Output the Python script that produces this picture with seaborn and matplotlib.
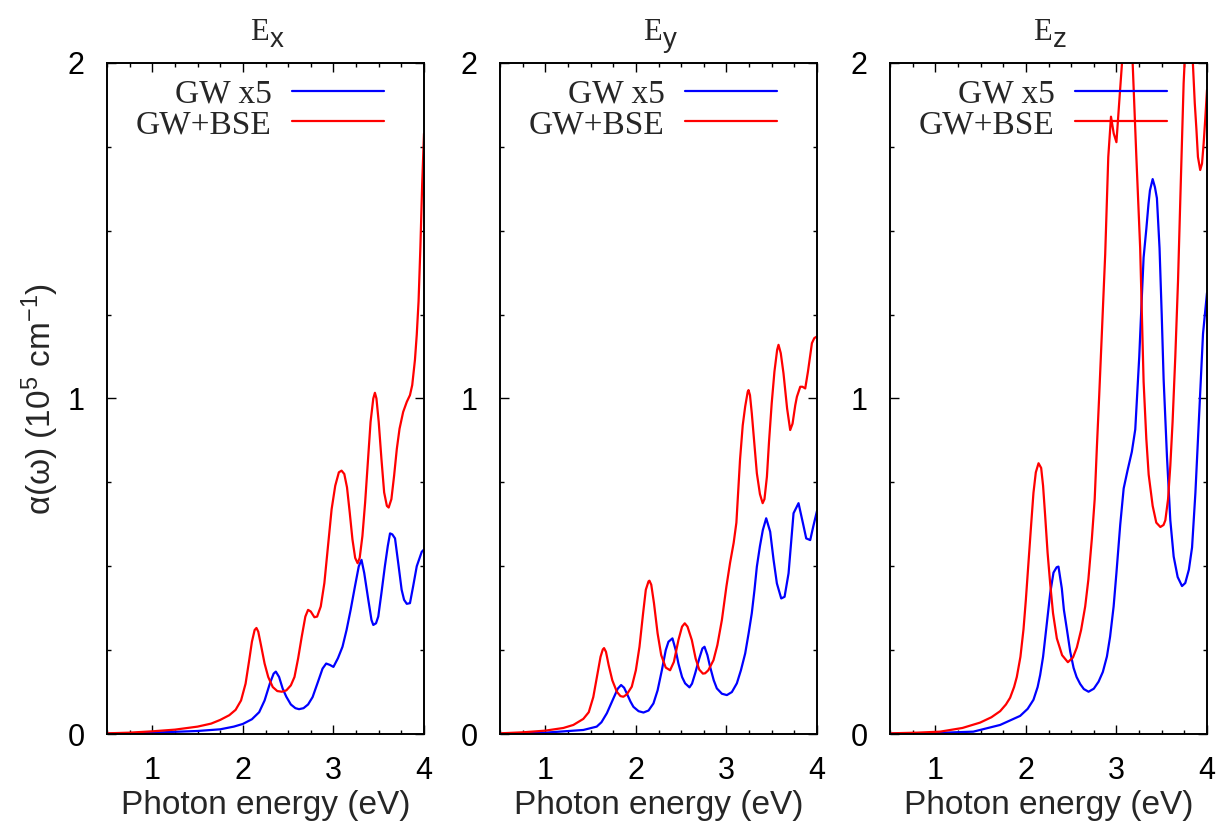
import numpy as np
import pandas as pd
import matplotlib
matplotlib.use("Agg")
import matplotlib.pyplot as plt
import seaborn as sns

# ---- absorption spectra, alpha in 1e5 cm^-1, energy in eV ----
panel_titles = ["x", "y", "z"]
series_names = ["GW x5", "GW+BSE"]
series_colors = ["#0000ff", "#ff0000"]

# E_x polarisation
ex_gw_e = [0.5, 1.0, 1.5, 1.75, 1.9, 2.0, 2.1, 2.18, 2.24, 2.30, 2.34, 2.364, 2.40, 2.44,
           2.48, 2.53, 2.58, 2.62, 2.67, 2.72, 2.77, 2.83, 2.88, 2.92, 2.96, 3.0, 3.05, 3.10,
           3.145, 3.19, 3.237, 3.28, 3.31, 3.34, 3.385, 3.42, 3.44, 3.47, 3.495, 3.53, 3.568,
           3.60, 3.625, 3.65, 3.68, 3.72, 3.753, 3.78, 3.81, 3.845, 3.88, 3.92, 3.975, 4.0]
ex_gw_a = [0.001, 0.004, 0.009, 0.014, 0.022, 0.03, 0.044, 0.065, 0.10, 0.152, 0.18, 0.186,
           0.17, 0.135, 0.111, 0.088, 0.077, 0.074, 0.077, 0.088, 0.11, 0.156, 0.195, 0.21,
           0.206, 0.2, 0.226, 0.26, 0.31, 0.37, 0.439, 0.50, 0.519, 0.48, 0.40, 0.34, 0.325,
           0.33, 0.35, 0.42, 0.50, 0.56, 0.598, 0.595, 0.583, 0.50, 0.43, 0.40, 0.388, 0.39,
           0.44, 0.50, 0.543, 0.55]
ex_bse_e = [0.5, 0.75, 1.0, 1.25, 1.5, 1.65, 1.75, 1.85, 1.92, 1.98, 2.03, 2.07, 2.10, 2.13,
            2.15, 2.17, 2.20, 2.24, 2.28, 2.33, 2.38, 2.43, 2.48, 2.53, 2.57, 2.61, 2.65,
            2.69, 2.72, 2.75, 2.79, 2.82, 2.86, 2.90, 2.94, 2.98, 3.02, 3.06, 3.09, 3.12,
            3.15, 3.18, 3.21, 3.24, 3.267, 3.29, 3.32, 3.35, 3.38, 3.41, 3.44, 3.458, 3.475,
            3.50, 3.53, 3.56, 3.59, 3.61, 3.64, 3.67, 3.70, 3.73, 3.77, 3.81, 3.845, 3.87,
            3.90, 3.92, 3.94, 3.96, 3.98, 4.0]
ex_bse_a = [0.002, 0.004, 0.008, 0.013, 0.022, 0.031, 0.042, 0.056, 0.072, 0.10, 0.15, 0.22,
            0.275, 0.31, 0.316, 0.305, 0.265, 0.21, 0.17, 0.14, 0.128, 0.126, 0.13, 0.145,
            0.17, 0.225, 0.29, 0.35, 0.37, 0.365, 0.348, 0.35, 0.38, 0.45, 0.56, 0.67, 0.74,
            0.78, 0.785, 0.775, 0.735, 0.66, 0.58, 0.525, 0.509, 0.525, 0.59, 0.69, 0.81,
            0.93, 1.0, 1.017, 1.0, 0.93, 0.82, 0.72, 0.68, 0.675, 0.70, 0.77, 0.85, 0.91,
            0.96, 0.99, 1.01, 1.04, 1.115, 1.19, 1.29, 1.45, 1.64, 1.79]

# E_y polarisation
ey_gw_e = [0.5, 1.0, 1.42, 1.568, 1.62, 1.68, 1.752, 1.80, 1.837, 1.87, 1.90, 1.94, 1.973,
           2.03, 2.084, 2.14, 2.194, 2.24, 2.287, 2.33, 2.36, 2.404, 2.44, 2.47, 2.51, 2.544,
           2.592, 2.62, 2.655, 2.70, 2.735, 2.758, 2.79, 2.82, 2.86, 2.894, 2.95, 3.005,
           3.06, 3.115, 3.16, 3.207, 3.245, 3.28, 3.31, 3.336, 3.37, 3.402, 3.439, 3.483,
           3.52, 3.557, 3.605, 3.642, 3.686, 3.741, 3.796, 3.845, 3.881, 3.925, 3.96, 4.0]
ey_gw_a = [0.001, 0.004, 0.012, 0.022, 0.035, 0.062, 0.106, 0.135, 0.146, 0.138, 0.121,
           0.097, 0.081, 0.068, 0.064, 0.07, 0.091, 0.13, 0.19, 0.25, 0.275, 0.285, 0.25,
           0.21, 0.17, 0.151, 0.139, 0.15, 0.181, 0.225, 0.255, 0.26, 0.235, 0.20, 0.16,
           0.136, 0.12, 0.116, 0.125, 0.151, 0.19, 0.24, 0.30, 0.36, 0.43, 0.499, 0.56,
           0.608, 0.643, 0.603, 0.52, 0.449, 0.404, 0.409, 0.479, 0.658, 0.688, 0.628,
           0.583, 0.578, 0.62, 0.665]
ey_bse_e = [0.5, 0.75, 1.0, 1.2, 1.31, 1.42, 1.48, 1.53, 1.57, 1.61, 1.635, 1.649, 1.67,
            1.70, 1.74, 1.79, 1.83, 1.862, 1.90, 1.955, 2.0, 2.04, 2.08, 2.11, 2.14, 2.15,
            2.17, 2.20, 2.24, 2.28, 2.33, 2.378, 2.42, 2.47, 2.51, 2.54, 2.57, 2.618, 2.66,
            2.70, 2.74, 2.765, 2.80, 2.857, 2.90, 2.95, 3.0, 3.04, 3.08, 3.11, 3.15, 3.18,
            3.207, 3.235, 3.244, 3.26, 3.28, 3.31, 3.336, 3.37, 3.40, 3.42, 3.447, 3.47,
            3.50, 3.53, 3.56, 3.575, 3.60, 3.63, 3.67, 3.704, 3.73, 3.76, 3.778, 3.815,
            3.84, 3.87, 3.90, 3.944, 3.97, 4.0]
ey_bse_a = [0.002, 0.005, 0.01, 0.018, 0.027, 0.045, 0.065, 0.11, 0.17, 0.23, 0.252, 0.256,
            0.245, 0.205, 0.16, 0.126, 0.113, 0.111, 0.118, 0.141, 0.19, 0.26, 0.36, 0.43,
            0.455, 0.457, 0.445, 0.39, 0.30, 0.235, 0.198, 0.19, 0.215, 0.28, 0.32, 0.33,
            0.32, 0.28, 0.225, 0.192, 0.18, 0.181, 0.19, 0.22, 0.265, 0.34, 0.44, 0.51, 0.57,
            0.63, 0.817, 0.92, 0.976, 1.02, 1.025, 1.01, 0.956, 0.86, 0.777, 0.715, 0.688,
            0.70, 0.767, 0.87, 0.986, 1.08, 1.145, 1.16, 1.135, 1.075, 0.97, 0.906, 0.925,
            0.98, 1.005, 1.035, 1.035, 1.03, 1.08, 1.165, 1.18, 1.185]

# E_z polarisation
ez_gw_e = [0.5, 1.0, 1.42, 1.716, 1.937, 2.02, 2.084, 2.13, 2.158, 2.19, 2.213, 2.24, 2.269,
           2.305, 2.34, 2.36, 2.397, 2.42, 2.453, 2.49, 2.527, 2.56, 2.60, 2.64, 2.692, 2.75,
           2.803, 2.85, 2.895, 2.93, 2.969, 3.0, 3.042, 3.08, 3.123, 3.17, 3.208, 3.252,
           3.28, 3.30, 3.33, 3.354, 3.37, 3.40, 3.425, 3.447, 3.476, 3.50, 3.521, 3.558,
           3.595, 3.632, 3.676, 3.724, 3.76, 3.80, 3.835, 3.872, 3.908, 3.956, 4.0]
ez_gw_a = [0.001, 0.003, 0.007, 0.027, 0.054, 0.075, 0.102, 0.14, 0.176, 0.23, 0.285, 0.35,
           0.42, 0.481, 0.497, 0.499, 0.434, 0.37, 0.312, 0.245, 0.197, 0.17, 0.149, 0.134,
           0.126, 0.135, 0.156, 0.185, 0.231, 0.29, 0.38, 0.48, 0.624, 0.732, 0.786, 0.841,
           0.908, 1.125, 1.3, 1.42, 1.505, 1.58, 1.62, 1.654, 1.63, 1.597, 1.448, 1.25,
           1.058, 0.827, 0.637, 0.529, 0.468, 0.441, 0.45, 0.49, 0.556, 0.719, 0.922, 1.193,
           1.315]
ez_bse_e = [0.5, 0.8, 1.053, 1.3, 1.495, 1.62, 1.716, 1.78, 1.826, 1.87, 1.90, 1.94, 1.974,
            2.0, 2.03, 2.06, 2.084, 2.11, 2.14, 2.169, 2.19, 2.213, 2.24, 2.269, 2.30, 2.342,
            2.40, 2.464, 2.52, 2.563, 2.61, 2.655, 2.69, 2.729, 2.76, 2.784, 2.81, 2.84,
            2.876, 2.91, 2.94, 2.97, 3.0, 3.03, 3.06, 3.09, 3.12, 3.15, 3.18, 3.22, 3.262,
            3.30, 3.33, 3.356, 3.40, 3.44, 3.485, 3.52, 3.54, 3.57, 3.595, 3.62, 3.65, 3.68,
            3.706, 3.742, 3.77, 3.80, 3.82, 3.845, 3.865, 3.883, 3.90, 3.925, 3.945, 3.963,
            3.98, 4.0]
ez_bse_a = [0.002, 0.004, 0.007, 0.018, 0.034, 0.05, 0.068, 0.088, 0.108, 0.14, 0.17, 0.23,
            0.312, 0.40, 0.515, 0.63, 0.719, 0.78, 0.807, 0.793, 0.74, 0.651, 0.54, 0.447,
            0.36, 0.285, 0.235, 0.214, 0.228, 0.258, 0.31, 0.38, 0.46, 0.583, 0.70, 0.854,
            1.01, 1.2, 1.43, 1.72, 1.84, 1.79, 1.764, 1.88, 1.994, 2.3, 2.4, 2.3, 1.994, 1.72,
            1.449, 1.05, 0.88, 0.773, 0.68, 0.63, 0.617, 0.623, 0.637, 0.70, 0.80, 0.93,
            1.125, 1.35, 1.60, 1.94, 2.1, 2.25, 2.15, 1.994, 1.88, 1.803, 1.72, 1.681, 1.70,
            1.76, 1.83, 1.92]

x_major = [1, 2, 3, 4]
y_major = [0, 1, 2]

panels = [
    (ex_gw_e, ex_gw_a, ex_bse_e, ex_bse_a),
    (ey_gw_e, ey_gw_a, ey_bse_e, ey_bse_a),
    (ez_gw_e, ez_gw_a, ez_bse_e, ez_bse_a),
]

sns.set_theme(style="ticks")
plt.rcParams["font.family"] = ["Liberation Sans", "DejaVu Sans"]
plt.rcParams["mathtext.default"] = "regular"
plt.rcParams["axes.unicode_minus"] = False

W, H = 1225, 821
fig = plt.figure(figsize=(W / 100, H / 100), dpi=100)
fig.patch.set_facecolor("white")

ax_left_px = [107, 500, 890]
ax_w_px, ax_top_px, ax_bot_px = 317, 63, 734
ax_h_px = ax_bot_px - ax_top_px

for i, (sub, (gw_e, gw_a, bse_e, bse_a)) in enumerate(zip(panel_titles, panels)):
    ax = fig.add_axes([ax_left_px[i] / W, (H - ax_bot_px) / H,
                       ax_w_px / W, ax_h_px / H])
    df = pd.concat([
        pd.DataFrame({"energy": gw_e, "alpha": gw_a, "series": series_names[0]}),
        pd.DataFrame({"energy": bse_e, "alpha": bse_a, "series": series_names[1]}),
    ], ignore_index=True)
    sns.lineplot(data=df, x="energy", y="alpha", hue="series", hue_order=series_names,
                 palette=dict(zip(series_names, series_colors)), estimator=None,
                 linewidth=1.6, ax=ax)

    ax.set_xlim(0.5, 4.0)
    ax.set_ylim(0, 2)
    ax.set_xticks(x_major)
    ax.set_xticks(np.arange(0.5, 4.001, 0.25), minor=True)
    ax.set_yticks(y_major)
    ax.set_yticks(np.arange(0, 2.001, 0.25), minor=True)
    ax.tick_params(which="both", direction="in", top=True, right=True, colors="black",
                   labelsize=22)
    ax.tick_params(which="major", length=6.5, width=1.0)
    ax.tick_params(which="minor", length=3.2, width=1.0)
    ax.tick_params(axis="x", which="major", pad=16)
    ax.tick_params(axis="y", which="major", pad=16)
    for s in ax.spines.values():
        s.set_linewidth(1.4)
        s.set_color("black")
        s.set_visible(True)

    ax.set_xlabel("Photon energy (eV)", fontsize=24, labelpad=3)
    if i == 0:
        ax.set_ylabel("α(ω) (10$^5$ cm$^{-1}$)", fontsize=24, labelpad=5)
    else:
        ax.set_ylabel("")

    # panel heading: E with a sans subscript
    ax.text(0.5 + 3 / ax_w_px, 1 + 23 / ax_h_px, "E", transform=ax.transAxes,
            ha="right", va="baseline", fontsize=22, family="Liberation Serif")
    ax.text(0.5 + 4 / ax_w_px, 1 + 16 / ax_h_px, sub, transform=ax.transAxes,
            ha="left", va="baseline", fontsize=20, family="Liberation Sans")

    leg = ax.legend(loc="upper right", bbox_to_anchor=(277 / ax_w_px, 1 - 16 / ax_h_px),
                    frameon=False, markerfirst=False, handlelength=2.75,
                    handletextpad=0.62, labelspacing=0.0, borderpad=0,
                    borderaxespad=0, prop={"family": "Liberation Serif", "size": 24})
    for line in leg.get_lines():
        line.set_linewidth(1.6)

fig.savefig("out.png", dpi=100, facecolor="white")
